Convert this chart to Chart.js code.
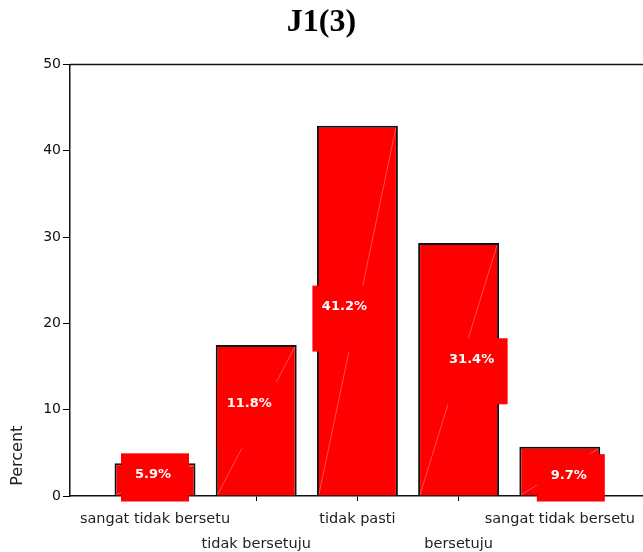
<!DOCTYPE html>
<html>
<head>
<meta charset="utf-8">
<script src="https://cdn.jsdelivr.net/npm/chart.js@4.4.1/dist/chart.umd.min.js"></script>
<style>
  html, body { margin: 0; padding: 0; background: #fff; overflow: hidden; }
  #wrap { width: 643px; height: 552px; }
</style>
</head>
<body>
<div id="wrap"><canvas id="chart"></canvas></div>
<script>
// J1(3) - bar chart, percent per answer
const categories = ['sangat tidak bersetu', 'tidak bersetuju', 'tidak pasti', 'bersetuju', 'sangat tidak bersetu'];
const percentValues = [3.8, 17.5, 42.9, 29.3, 5.7];
const barLabels = ['5.9%', '11.8%', '41.2%', '31.4%', '9.7%'];
const yTicks = [0, 10, 20, 30, 40, 50];

// small nudges for the value labels, pixels [dx, dy]
const labelShift = [[-2, -5], [-7, -17], [-13, -4], [13, -10], [9, 4]];

const barPoints = percentValues.map((v, i) => ({ x: i, y: v }));

const barDecor = {
  id: 'barDecor',
  afterDatasetsDraw(chart) {
    const ctx = chart.ctx;
    const bars = chart.getDatasetMeta(0).data;
    ctx.save();
    // faint diagonal seams inside bars
    ctx.strokeStyle = 'rgba(255,200,200,0.55)';
    ctx.lineWidth = 0.7;
    bars.forEach(b => {
      const left = b.x - b.width / 2, right = b.x + b.width / 2;
      ctx.beginPath();
      ctx.moveTo(right - 2, b.y + 2);
      ctx.lineTo(left + 2, b.base - 1);
      ctx.stroke();
    });
    // value labels on red boxes
    ctx.font = 'bold 13px "DejaVu Sans"';
    ctx.textAlign = 'center';
    ctx.textBaseline = 'middle';
    bars.forEach((b, i) => {
      const tx = b.x + labelShift[i][0];
      const ty = (b.y + b.base) / 2 + labelShift[i][1];
      const top = ty - 21;
      const bottom = Math.min(ty + 45, b.base + 6);
      ctx.fillStyle = '#ff0000';
      ctx.fillRect(tx - 32, top, 68, bottom - top);
      ctx.fillStyle = '#ffffff';
      ctx.fillText(barLabels[i], tx, ty);
    });
    ctx.restore();
  },
  afterDraw(chart) {
    const { ctx, chartArea } = chart;
    ctx.save();
    ctx.strokeStyle = '#111';
    ctx.lineWidth = 1.5;
    ctx.beginPath();
    ctx.moveTo(chartArea.left, chartArea.top);
    ctx.lineTo(chartArea.right, chartArea.top);
    ctx.stroke();
    ctx.restore();
  }
};

new Chart(document.getElementById('chart'), {
  type: 'bar',
  data: {
    datasets: [{
      data: barPoints,
      backgroundColor: '#ff0000',
      borderColor: '#111',
      borderWidth: 2,
      barPercentage: 0.8,
      categoryPercentage: 1
    }]
  },
  options: {
    responsive: true,
    maintainAspectRatio: false,
    animation: false,
    layout: { padding: { left: 0, right: 0, top: 0, bottom: 0 } },
    plugins: {
      legend: { display: false },
      tooltip: { enabled: false },
      title: {
        display: true,
        text: 'J1(3)',
        color: '#000',
        font: { family: 'Liberation Serif', size: 32, weight: 'bold' },
        padding: { top: 4, bottom: 22 }
      }
    },
    scales: {
      x: {
        type: 'linear',
        offset: false,
        min: -0.84,
        max: 4.822,
        afterBuildTicks(scale) {
          scale.ticks = categories.map((c, i) => ({ value: i }));
        },
        afterFit(scale) { scale.height = 56; },
        ticks: {
          autoSkip: false,
          maxRotation: 0,
          color: '#222',
          padding: 6,
          font: { family: 'DejaVu Sans', size: 14.5, lineHeight: 1.7 },
          callback(value) {
            const name = categories[value];
            return value % 2 === 1 ? ['', name] : [name];
          }
        },
        grid: { offset: false, drawOnChartArea: false, tickLength: 5, color: '#000', lineWidth: 1 },
        border: { display: true, color: '#111', width: 1.5 }
      },
      y: {
        min: 0,
        max: 50,
        afterBuildTicks(scale) {
          scale.ticks = yTicks.map(v => ({ value: v }));
        },
        afterFit(scale) { scale.width = 70; },
        ticks: {
          color: '#111',
          padding: 2,
          font: { family: 'DejaVu Sans', size: 14 }
        },
        grid: { drawOnChartArea: false, tickLength: 7, color: '#000', lineWidth: 1 },
        border: { display: true, color: '#111', width: 1.5 },
        title: {
          display: true,
          text: '  Percent',
          align: 'start',
          color: '#222',
          font: { family: 'DejaVu Sans', size: 16 },
          padding: { top: 8, bottom: 0 }
        }
      }
    }
  },
  plugins: [barDecor]
});
</script>
</body>
</html>
